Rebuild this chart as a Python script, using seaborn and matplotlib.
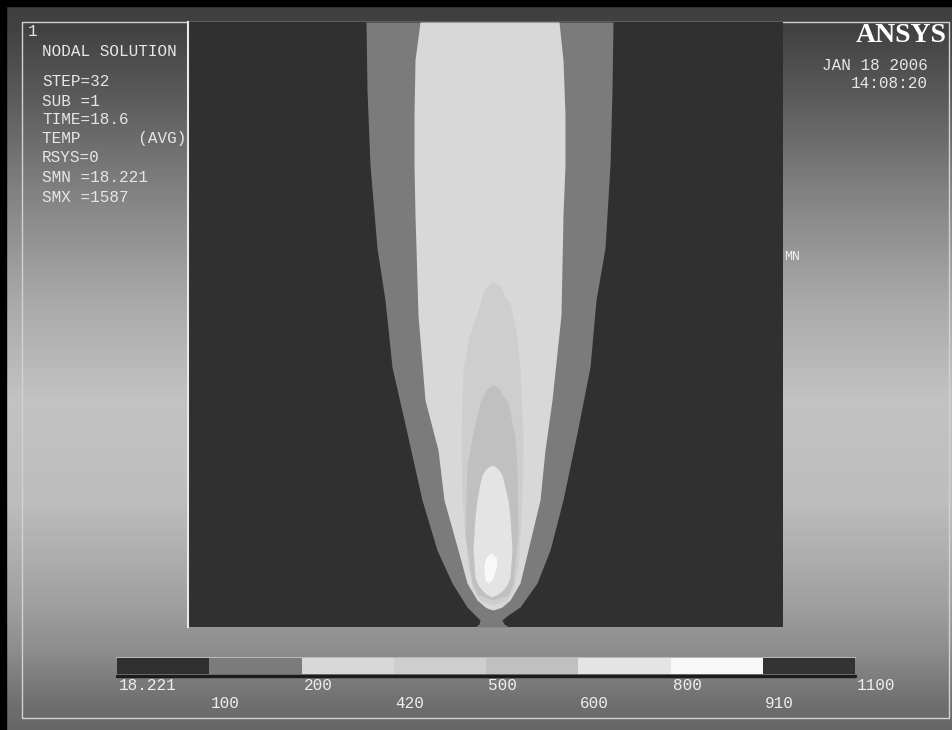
import numpy as np
import seaborn as sns
import matplotlib.pyplot as plt
from matplotlib.colors import ListedColormap
from matplotlib.patches import Rectangle

# contour levels of the legend (TEMP) and the grey used for each band
level_labels = ["18.221", "100", "200", "420", "500", "600", "800", "910", "1100"]
band_colors = ["#303030", "#7b7b7b", "#d8d8d8", "#cecece", "#c0c0c0",
               "#e4e4e4", "#f8f8f8", "#333333"]

# isotherm outlines: height above bottom edge, left and right x
t100_y = [605, 537, 462, 379, 327, 260, 194, 127, 77, 44, 20, 12, 7, 3, 0]
t100_left = [178, 179, 182, 189, 197, 204, 219, 234, 249, 264, 279, 287, 292, 291, 287]
t100_right = [425, 424, 422, 417, 408, 402, 389, 375, 362, 349, 332, 320, 314, 316, 321]

t200_y = [605, 567, 512, 462, 412, 312, 227, 177, 127, 77, 44, 27, 20, 18.5, 17]
t200_left = [232, 227, 226, 226, 227, 230, 237, 250, 256, 270, 279, 289, 297, 300, 305]
t200_right = [371, 375, 377, 377, 375, 373, 364, 357, 352, 340, 332, 322, 314, 310, 305]

t420_y = [345, 343, 340, 332, 324, 290, 257, 190, 127, 60, 37, 27, 22]
t420_left = [305, 301, 298, 294, 292, 281, 275, 273, 274, 280, 285, 292, 305]
t420_right = [305, 309, 313, 316, 322, 329, 332, 335, 334, 330, 325, 319, 305]

t500_y = [242, 240, 237, 231, 224, 190, 160, 94, 44, 32, 27]
t500_left = [305, 301, 298, 295, 292, 284, 279, 277, 284, 290, 305]
t500_right = [305, 309, 312, 315, 320, 327, 329, 330, 325, 320, 305]

t600_y = [162, 160, 157, 152, 144, 127, 110, 77, 50, 42, 37, 33, 30]
t600_left = [304, 300, 297, 294, 292, 289, 287, 285, 287, 290, 294, 298, 304]
t600_right = [304, 308, 311, 314, 316, 320, 322, 324, 322, 319, 315, 310, 304]

t800_y = [74, 70, 62, 55, 47, 44]
t800_left = [303, 298, 296, 296, 297, 300]
t800_right = [303, 308, 309, 307, 304, 300]

info_lines = [("1", 31), ("NODAL SOLUTION", 52), ("STEP=32", 82), ("SUB =1", 102),
              ("TIME=18.6", 120), ("TEMP      (AVG)", 139), ("RSYS=0", 158),
              ("SMN =18.221", 178), ("SMX =1587", 197)]

sns.set_theme(style="white")
plt.rcParams["font.family"] = ["Liberation Mono", "DejaVu Sans Mono"]

W, H = 952, 730
fig = plt.figure(figsize=(W / 100, H / 100), dpi=100)

# window background gradient + frame
bg = fig.add_axes([0, 0, 1, 1], zorder=-10)
stops_y = [0, 30, 100, 200, 300, 400, 500, 600, 650, 700, 730]
stops_v = [0.24, 0.26, 0.36, 0.52, 0.66, 0.76, 0.74, 0.63, 0.55, 0.44, 0.40]
grad = np.interp(np.arange(H), stops_y, stops_v).reshape(-1, 1)
bg.imshow(grad, cmap="gray", vmin=0, vmax=1, aspect="auto", extent=[0, W, H, 0])
bg.set_xlim(0, W)
bg.set_ylim(H, 0)
bg.axis("off")
bg.add_patch(Rectangle((0, 0), 6, H, color="black"))
bg.add_patch(Rectangle((0, 0), W, 6, color="black"))
bg.add_patch(Rectangle((22, 22), 927, 696, fill=False, ec="#d2d2d2", lw=1))

# main contour plot
ax = fig.add_axes([188 / W, (H - 627) / H, 595 / W, 605 / H])
ax.set_facecolor(band_colors[0])
outlines = [(t100_y, t100_left, t100_right), (t200_y, t200_left, t200_right),
            (t420_y, t420_left, t420_right), (t500_y, t500_left, t500_right),
            (t600_y, t600_left, t600_right), (t800_y, t800_left, t800_right)]
for i, (yy, xl, xr) in enumerate(outlines):
    ax.fill_betweenx(yy, xl, xr, color=band_colors[i + 1], lw=0)
ax.set_xlim(0, 595)
ax.set_ylim(0, 605)
ax.set_xticks([])
ax.set_yticks([])
for s in ["top", "right", "bottom"]:
    ax.spines[s].set_visible(False)
ax.spines["left"].set_color("#e8e8e8")
ax.spines["left"].set_linewidth(1.5)

# legend bar
cb = fig.add_axes([117 / W, 1 - 674 / H, 738 / W, 16 / H])
sns.heatmap(np.arange(len(band_colors)).reshape(1, -1), cmap=ListedColormap(band_colors),
            vmin=-0.5, vmax=len(band_colors) - 0.5, cbar=False,
            xticklabels=False, yticklabels=False, ax=cb)
bg.plot([117, 855], [675.5, 675.5], color="#1c1c1c", lw=2.5)
bg.plot([117, 855], [657.5, 657.5], color="#b8b8b8", lw=1.5)
seg = 738 / (len(level_labels) - 1)
for i, lab in enumerate(level_labels):
    fig.text((117 + i * seg + 2) / W, 1 - (686 if i % 2 == 0 else 703) / H, lab,
             color="#eeeeee", fontsize=11.5, va="center", ha="left")

# annotation text
txt = dict(color="#e6e6e6", fontsize=11.5, va="center")
for s, y in info_lines:
    x = 28 if s == "1" else 42
    fig.text(x / W, 1 - y / H, s, **txt)
fig.text(928 / W, 1 - 65 / H, "JAN 18 2006", ha="right", **txt)
fig.text(928 / W, 1 - 83 / H, "14:08:20", ha="right", **txt)
fig.text(784 / W, 1 - 257 / H, "MN", color="#f0f0f0", fontsize=9.5, va="center")
fig.text(947 / W, 1 - 35 / H, "ANSYS", ha="right", va="center", color="white",
         fontsize=20, fontweight="bold", family="Liberation Serif")

fig.savefig("out.png", dpi=100)
